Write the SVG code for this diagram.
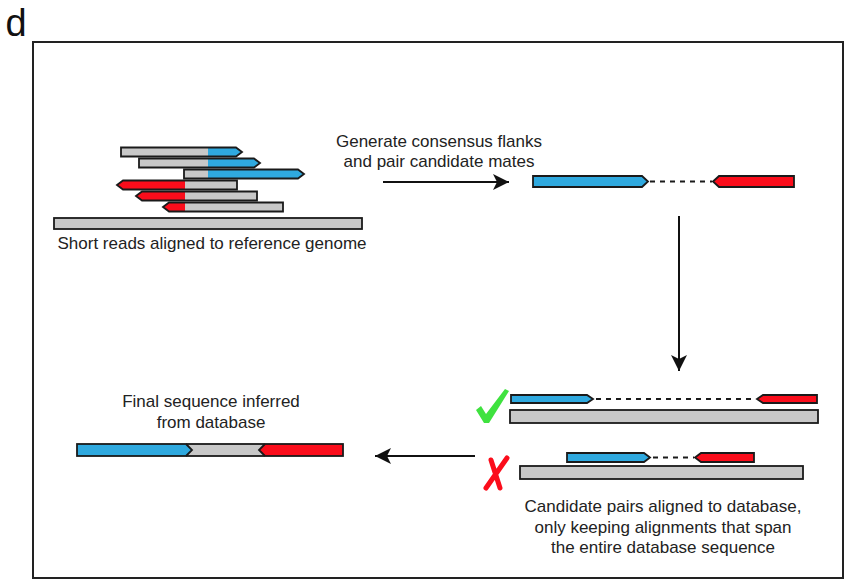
<svg xmlns="http://www.w3.org/2000/svg" width="854" height="584" viewBox="0 0 854 584">
<defs>
<style>
text{font-family:"Liberation Sans",Arial,sans-serif;font-size:17px;fill:#222;text-anchor:middle}
.g{fill:#c8c8c8}
.b{fill:#2fa9df}
.r{fill:#fb0d1b}
.s{stroke:#1a1a1a;stroke-width:1.8}
.o{fill:none;stroke:#1a1a1a;stroke-width:1.8;stroke-linejoin:miter}
.d{fill:none;stroke:#1a1a1a;stroke-width:2;stroke-dasharray:5 5}
.a{fill:none;stroke:#111;stroke-width:2}
</style>
<marker id="ah" markerUnits="userSpaceOnUse" markerWidth="17" markerHeight="17" refX="16" refY="8" orient="auto" viewBox="0 0 17 17">
<path d="M0,0 L16,8 L0,16 L4,8 Z" fill="#111"/>
</marker>
</defs>
<rect x="0" y="0" width="854" height="584" fill="#fff"/>
<text x="16" y="36" style="font-size:38px;fill:#111">d</text>
<rect x="33" y="42" width="810" height="536" fill="none" stroke="#222" stroke-width="2"/>

<g id="reads">
<rect class="g" x="121" y="147.5" width="87" height="9"/>
<polygon class="b" points="208,147.5 236,147.5 242,152 236,156.5 208,156.5"/>
<polygon class="o" points="121,147.5 236,147.5 242,152 236,156.5 121,156.5"/>
<rect class="g" x="139" y="158.5" width="69" height="9"/>
<polygon class="b" points="208,158.5 254,158.5 260,163 254,167.5 208,167.5"/>
<polygon class="o" points="139,158.5 254,158.5 260,163 254,167.5 139,167.5"/>
<rect class="g" x="184" y="169.5" width="24" height="9"/>
<polygon class="b" points="208,169.5 298,169.5 304,174 298,178.5 208,178.5"/>
<polygon class="o" points="184,169.5 298,169.5 304,174 298,178.5 184,178.5"/>
<polygon class="r" points="117,185 123,180.5 185,180.5 185,189.5 123,189.5"/>
<rect class="g" x="185" y="180.5" width="52" height="9"/>
<polygon class="o" points="117,185 123,180.5 237,180.5 237,189.5 123,189.5"/>
<polygon class="r" points="136,196 142,191.5 185,191.5 185,200.5 142,200.5"/>
<rect class="g" x="185" y="191.5" width="72" height="9"/>
<polygon class="o" points="136,196 142,191.5 257,191.5 257,200.5 142,200.5"/>
<polygon class="r" points="163,207 169,202.5 185,202.5 185,211.5 169,211.5"/>
<rect class="g" x="185" y="202.5" width="98" height="9"/>
<polygon class="o" points="163,207 169,202.5 283,202.5 283,211.5 169,211.5"/>
<rect class="g s" x="54" y="218" width="308" height="11"/>
<text x="212" y="249">Short reads aligned to reference genome</text>
</g>

<g id="consensus">
<text x="439" y="147">Generate consensus flanks</text>
<text x="439" y="167">and pair candidate mates</text>
<polygon class="b s" points="533,176 642,176 648,181.5 642,187 533,187"/>
<line class="d" x1="650" y1="181.5" x2="712" y2="181.5"/>
<polygon class="r s" points="713,181.5 719,176 794,176 794,187 719,187"/>
</g>

<g id="alignments">
<path d="M476,410 L481,406 L486,414 L505,389 L509,391 L489,423 L484,423 Z" fill="#3fe23f"/>
<polygon class="b s" points="511,395 587,395 593,399 587,403 511,403"/>
<line class="d" x1="596" y1="399" x2="756" y2="399"/>
<polygon class="r s" points="757,399 763,395 817,395 817,403 763,403"/>
<rect class="g s" x="510" y="410" width="308" height="13"/>
<path d="M491,460 L500,488 M507,458 L486,488" fill="none" stroke="#fb0d1b" stroke-width="5" stroke-linecap="round"/>
<polygon class="b s" points="567,453 644,453 650,457.5 644,462 567,462"/>
<line class="d" x1="653" y1="457.5" x2="694" y2="457.5"/>
<polygon class="r s" points="695,457.5 701,453 754,453 754,462 701,462"/>
<rect class="g s" x="520" y="466" width="283" height="13"/>
<text x="663" y="512">Candidate pairs aligned to database,</text>
<text x="663" y="533">only keeping alignments that span</text>
<text x="663" y="553">the entire database sequence</text>
</g>

<g id="final">
<text x="211" y="407">Final sequence inferred</text>
<text x="211" y="428">from database</text>
<polygon class="g" points="186,444 265,444 259,450 265,456 186,456 192,450"/>
<polygon class="b" points="77,444 186,444 192,450 186,456 77,456"/>
<polygon class="r" points="265,444 343,444 343,456 265,456 259,450"/>
<rect class="o" x="77" y="444" width="266" height="12"/>
<polyline class="o" points="186,444 192,450 186,456"/>
<polyline class="o" points="265,444 259,450 265,456"/>
</g>

<g id="connectors">
<line class="a" x1="383" y1="182" x2="509" y2="182" marker-end="url(#ah)"/>
<line class="a" x1="679" y1="216" x2="679" y2="371" marker-end="url(#ah)"/>
<line class="a" x1="475" y1="456" x2="375" y2="456" marker-end="url(#ah)"/>
</g>
</svg>
